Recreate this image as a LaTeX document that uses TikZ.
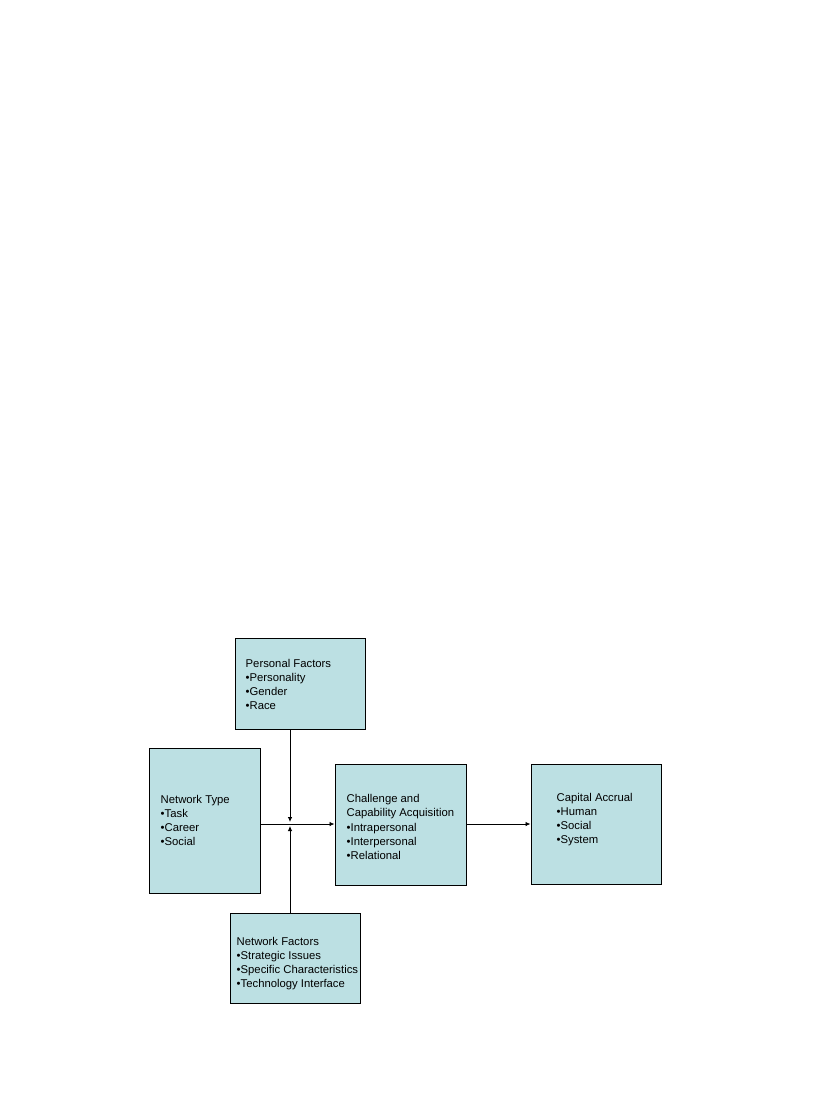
\documentclass[tikz,border=0pt]{standalone}
\usepackage{fontspec}
\setmainfont{Liberation Sans}
\usetikzlibrary{arrows.meta,shadows}
\definecolor{boxfill}{RGB}{188,224,227}
\tikzset{
  box/.style={draw=black, line width=1pt, fill=boxfill, inner sep=0pt,
    general shadow={fill=black!55, shadow xshift=0.9pt, shadow yshift=-0.9pt}},
  txt/.style={align=left, inner sep=0pt, anchor=west,
    font=\fontsize{11.3}{14.2}\selectfont},
  conn/.style={line width=0.8pt, -{Latex[length=5pt,width=4.5pt]}},
}
\begin{document}
\begin{tikzpicture}[x=1pt, y=-1pt]
\useasboundingbox (0,0) rectangle (816,1114);
% boxes
\node[box, minimum width=130pt, minimum height=91pt] (pf) at (300,683.5) {};
\node[box, minimum width=111pt, minimum height=145pt] (nt) at (204.5,820.5) {};
\node[box, minimum width=131pt, minimum height=121pt] (ch) at (400.5,824.5) {};
\node[box, minimum width=130pt, minimum height=120pt] (ca) at (596,824) {};
\node[box, minimum width=130pt, minimum height=90pt] (nf) at (295,958.5) {};
% texts
\node[txt, xshift=11pt, yshift=-1pt] (pfT) at (pf.west) {Personal Factors\\•Personality\\•Gender\\•Race};
\node[txt, xshift=12pt] (ntT) at (nt.west) {Network Type\\•Task\\•Career\\•Social};
\node[txt, xshift=12pt, yshift=-2.5pt] (chT) at (ch.west) {Challenge and\\Capability Acquisition\\•Intrapersonal\\•Interpersonal\\•Relational};
\node[txt, xshift=26pt, yshift=4.5pt] (caT) at (ca.west) {Capital Accrual\\•Human\\•Social\\•System};
\node[txt, xshift=7pt, yshift=-5pt] (nfT) at (nf.west) {Network Factors\\•Strategic Issues\\•Specific Characteristics\\•Technology Interface};
% connectors
\coordinate (j) at (290,824);
\draw[conn] (pf.south -| j) -- ([yshift=2pt]j);
\draw[conn] (nf.north -| j) -- ([yshift=-2pt]j);
\draw[conn] (nt.east |- j) -- (ch.west |- j);
\draw[conn] (ch.east |- j) -- (ca.west |- j);
\end{tikzpicture}
\end{document}
